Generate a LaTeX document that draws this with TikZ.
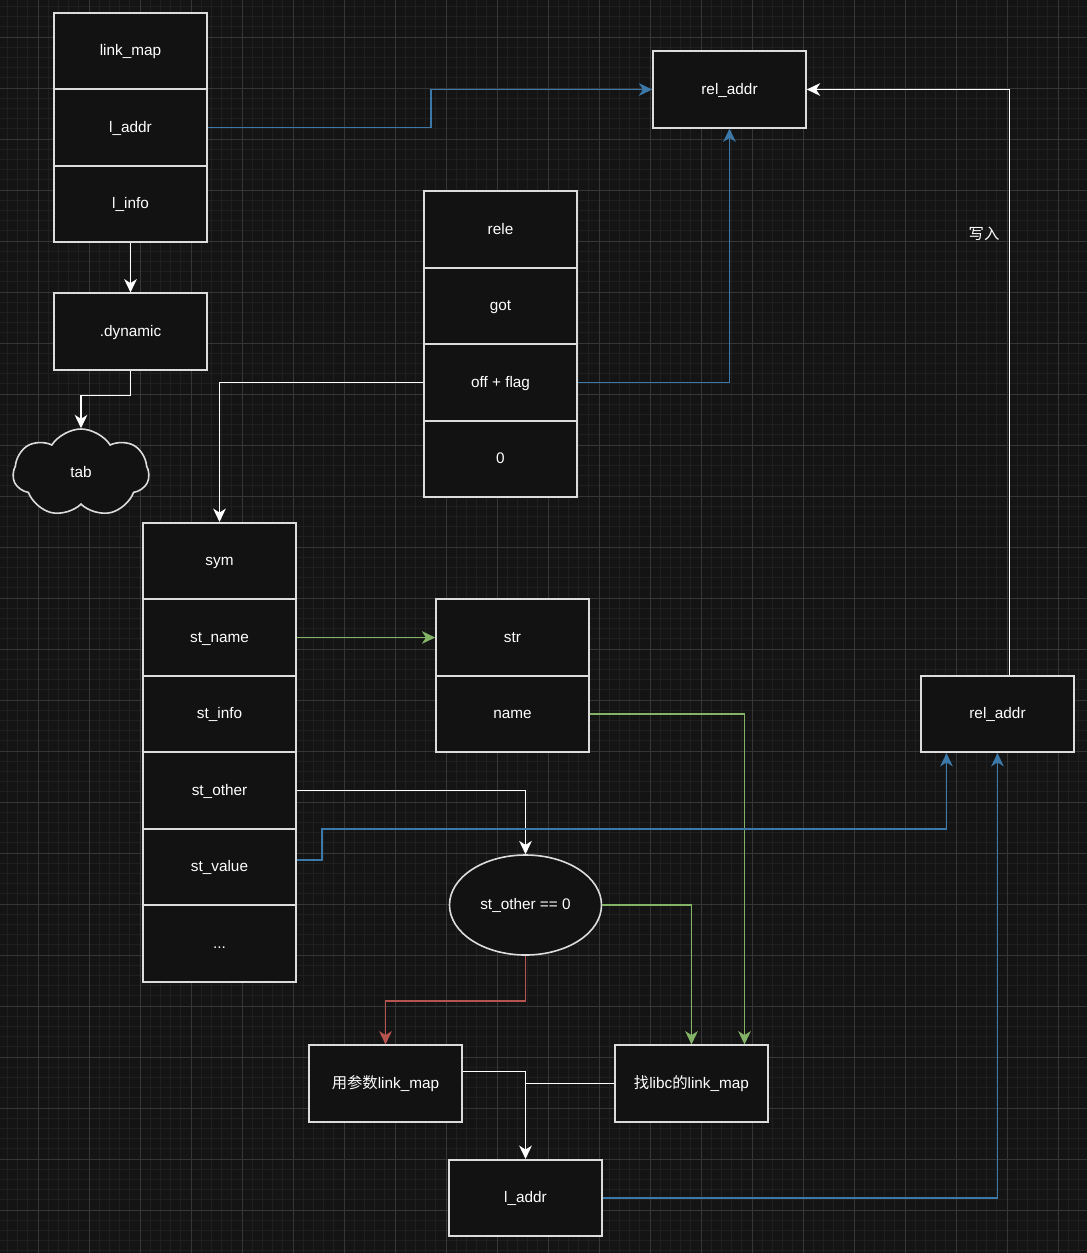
\documentclass[tikz,border=0pt]{standalone}
\usepackage{fontspec}
\setmainfont{Liberation Sans}
\newfontfamily\cjk{Noto Sans CJK SC}
\usepackage{tikz}
\usetikzlibrary{arrows.meta, positioning, calc, shapes.geometric, shapes.symbols}

\definecolor{bgcol}{HTML}{141414}
\definecolor{boxcol}{HTML}{121212}
\definecolor{minorcol}{HTML}{1F1F1F}
\definecolor{majorcol}{HTML}{363636}
\definecolor{edgecol}{HTML}{DCDCDC}
\definecolor{bluecol}{HTML}{3C78A8}
\definecolor{greencol}{HTML}{82B366}
\definecolor{redcol}{HTML}{B85450}

\begin{document}
\begin{tikzpicture}[x=0.75pt, y=-0.75pt, >={Stealth[length=10pt, width=9.5pt, inset=3pt]},
    box/.style={rectangle, draw=edgecol, line width=1.2pt, fill=boxcol, minimum width=114.75pt, minimum height=57.4pt, inner sep=0pt, text=white, text height=8.5pt, text depth=1.5pt, font=\fontsize{11.5}{13}\selectfont},
    wline/.style={draw=white, line width=1.2pt},
    bline/.style={draw=bluecol, line width=1.2pt},
    gline/.style={draw=greencol, line width=1.2pt},
    rline/.style={draw=redcol, line width=1.2pt}]
  \fill[bgcol] (0,0) rectangle (1087,1253);
  \useasboundingbox (0,0) rectangle (1087,1253);
  \foreach \k in {0,...,106} \draw[minorcol, line width=0.6pt] ({7.4+10.2*\k},0) -- ++(0,1253);
  \foreach \k in {0,...,122} \draw[minorcol, line width=0.6pt] (0,{6.4+10.2*\k}) -- ++(1087,0);
  \foreach \k in {0,...,20} \draw[majorcol, line width=0.75pt] ({38+51*\k},0) -- ++(0,1253);
  \foreach \k in {0,...,23} \draw[majorcol, line width=0.75pt] (0,{37+51*\k}) -- ++(1087,0);

  \node[box] (linkmap) at (130.5,51) {link\_map};
  \node[box] (laddr) at (130.5,127.5) {l\_addr};
  \node[box] (linfo) at (130.5,204) {l\_info};
  \node[box] (dyn) at (130.5,331.5) {.dynamic};
  \node[cloud, cloud puffs=7, cloud puff arc=115, aspect=1.55, draw=edgecol, line width=1.2pt, fill=boxcol, minimum width=102pt, minimum height=66pt, inner sep=0pt, text=white, text height=8.5pt, text depth=1.5pt, font=\fontsize{11.5}{13}\selectfont] (tab) at (81,473) {tab};

  \node[box] (reltop) at (729.5,89.5) {rel\_addr};
  \node[box] (rele) at (500.5,229.5) {rele};
  \node[box] (got) at (500.5,306) {got};
  \node[box] (off) at (500.5,382.5) {off + flag};
  \node[box] (zero) at (500.5,459) {0};

  \node[box] (sym) at (219.5,561) {sym};
  \node[box] (stname) at (219.5,637.5) {st\_name};
  \node[box] (stinfo) at (219.5,714) {st\_info};
  \node[box] (stother) at (219.5,790.5) {st\_other};
  \node[box] (stvalue) at (219.5,867) {st\_value};
  \node[box] (dots) at (219.5,943.5) {...};

  \node[box] (str) at (512.5,637.5) {str};
  \node[box] (name) at (512.5,714) {name};
  \node[box] (relright) at (997.5,714) {rel\_addr};

  \node[ellipse, draw=edgecol, line width=1.2pt, fill=boxcol, minimum width=114pt, minimum height=75pt, inner sep=0pt, text=white, text height=8.5pt, text depth=1.5pt, font=\fontsize{11.5}{13}\selectfont] (cond) at (525.5,905) {st\_other == 0};

  \node[box] (param) at (385.5,1083.5) {{\cjk 用参数}link\_map};
  \node[box] (libc) at (691.5,1083.5) {{\cjk 找}libc{\cjk 的}link\_map};
  \node[box] (laddrb) at (525.5,1198) {l\_addr};

  \node[text=white, font=\cjk\fontsize{11.5}{13}\selectfont] (write) at (984,234) {写入};

  \draw[wline, ->] (linfo) -- (dyn);
  \draw[wline, ->] (dyn.south) -- ++(0,25) -| (tab.north);
  \draw[bline, ->] (laddr.east) -- ++(223,0) |- (reltop.west);
  \draw[bline, ->] (off.east) -| (reltop.south);
  \draw[wline, ->] (off.west) -| (sym.north);
  \draw[gline, ->] (stname) -- (str);
  \draw[gline, ->] (name.east) -| ($(libc.north)+(53,0)$);
  \draw[wline, ->] (stother.east) -| (cond.north);
  \draw[bline, ->] ($(stvalue.east)+(0,-7)$) -- ++(25,0) -- ++(0,-31) -| ($(relright.south)+(-51,0)$);
  \draw[wline, ->] ($(relright.north)+(12,0)$) |- (reltop.east);
  \draw[rline, ->] (cond.south) -- ++(0,45) -| (param.north);
  \draw[gline, ->] (cond.east) -| (libc.north);
  \draw[wline, ->] ($(param.east)+(0,-12)$) -| (laddrb.north);
  \draw[wline] (libc.west) -- (libc.west -| laddrb.north);
  \draw[bline, ->] (laddrb.east) -| (relright.south);
\end{tikzpicture}
\end{document}
